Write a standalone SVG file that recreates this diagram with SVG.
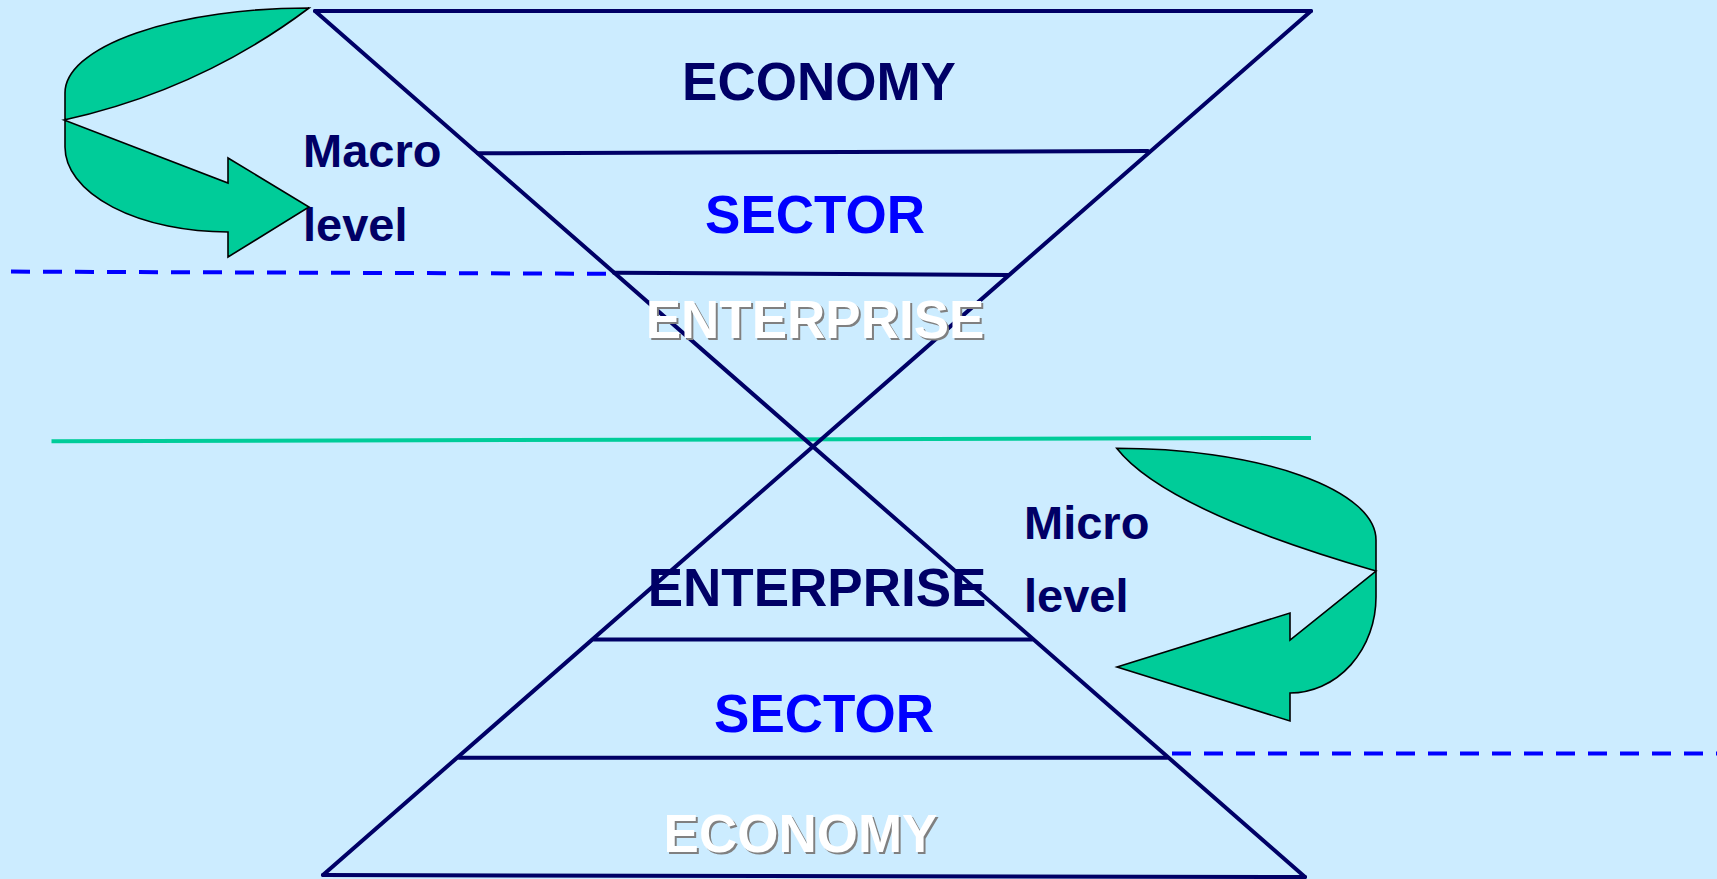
<svg xmlns="http://www.w3.org/2000/svg" width="1717" height="879" viewBox="0 0 1717 879">
<defs>
<style>
.t{font-family:"Liberation Sans",Arial,sans-serif;font-weight:bold;font-size:53px;text-anchor:middle}
.s{font-family:"Liberation Sans",Arial,sans-serif;font-weight:bold;font-size:47px}
.navy{fill:#000066}
.blue{fill:#0000FF}
.white{fill:#FFFFFF}
.shadow{fill:#808080}
.ln{stroke:#000066;stroke-width:4;fill:none;stroke-linecap:round}
.dash{stroke:#0000FF;stroke-width:4;stroke-dasharray:19 13;fill:none}
.arrow{fill:#00CC99;stroke:#000000;stroke-width:1.6;stroke-linejoin:miter}
</style>
</defs>
<rect x="0" y="0" width="1717" height="879" fill="#CCECFF"/>
<g id="connectors">
<line class="dash" x1="11" y1="271.6" x2="613" y2="273.8"/>
<line class="dash" x1="1172" y1="753.4" x2="1717" y2="753.4"/>
<line x1="51.5" y1="441.3" x2="1311" y2="438" stroke="#00CC99" stroke-width="4"/>
<line class="ln" x1="315" y1="11" x2="1311" y2="11"/>
<line class="ln" x1="315" y1="11" x2="1305" y2="877"/>
<line class="ln" x1="1311" y1="11" x2="323" y2="875"/>
<line class="ln" x1="323" y1="875" x2="1305" y2="877"/>
<line class="ln" x1="478" y1="153.3" x2="1148" y2="151.1"/>
<line class="ln" x1="614" y1="272.7" x2="1008" y2="274.9"/>
<line class="ln" x1="594" y1="639.5" x2="1032" y2="639.5"/>
<line class="ln" x1="459" y1="757.8" x2="1167" y2="757.8"/>
</g>
<g id="top-economy"><text class="t navy" x="819" y="100">ECONOMY</text></g>
<g id="top-sector"><text class="t blue" x="815" y="232.5">SECTOR</text></g>
<g id="top-enterprise"><text class="t shadow" x="817" y="340">ENTERPRISE</text><text class="t white" x="815" y="338">ENTERPRISE</text></g>
<g id="bottom-enterprise"><text class="t navy" x="817" y="605.5">ENTERPRISE</text></g>
<g id="bottom-sector"><text class="t blue" x="824" y="731.5">SECTOR</text></g>
<g id="bottom-economy"><text class="t shadow" x="802.5" y="853.5">ECONOMY</text><text class="t white" x="800.5" y="851.5">ECONOMY</text></g>
<g id="macro-label"><text class="s navy" x="303" y="167">Macro</text><text class="s navy" x="303" y="241">level</text></g>
<g id="micro-label"><text class="s navy" x="1024" y="538.5">Micro</text><text class="s navy" x="1024" y="612">level</text></g>
<g id="macro-arrow"><path class="arrow" d="M309,8 A244,85 0 0 0 65,93 L65,147 A163,85 0 0 0 228,232 L228,257 L309,207 L228,158 L228,183 L64,120 Q200,90 309,8 Z"/></g>
<g id="micro-arrow"><path class="arrow" d="M1116.7,448.3 A259.3,91.7 0 0 1 1376,540 L1376,597 A86,96 0 0 1 1290,693 L1290,721 L1117,667 L1290,613 L1290,640 L1376,571 Q1165,510 1116.7,448.3 Z"/></g>
</svg>
